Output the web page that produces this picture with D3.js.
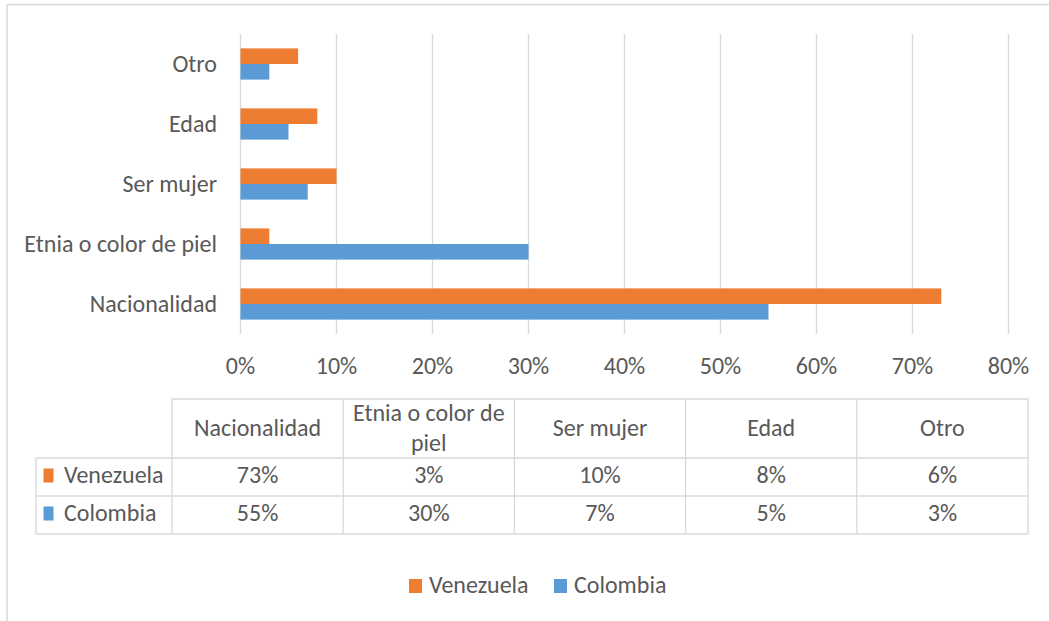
<!DOCTYPE html>
<html><head><meta charset="utf-8">
<script src="https://cdn.jsdelivr.net/npm/d3@7"></script>
<style>
body{margin:0;background:#fff;}
svg{display:block;}
text{font-family:Carlito,"Liberation Sans Narrow","DejaVu Sans Condensed","Open Sans",sans-serif;fill:#595959;}
</style></head><body>
<svg id="c" width="1049" height="621"></svg>
<script>
const categories = ["Nacionalidad","Etnia o color de piel","Ser mujer","Edad","Otro"];
const headerLines = [["Nacionalidad"],["Etnia o color de","piel"],["Ser mujer"],["Edad"],["Otro"]];
const seriesNames = ["Venezuela","Colombia"];
const venezuela = [73,3,10,8,6];
const colombia = [55,30,7,5,3];
const xTicks = [0,10,20,30,40,50,60,70,80];
const colors = ["#ED7D31","#5B9BD5"];
const series = [venezuela, colombia];

const svg = d3.select("#c");
const FS = 24;

// frame
svg.append("line").attr("x1",7).attr("x2",1049).attr("y1",4.5).attr("y2",4.5).attr("stroke","#D9D9D9").attr("stroke-width",1.5);
svg.append("line").attr("x1",7).attr("x2",7).attr("y1",4.5).attr("y2",621).attr("stroke","#D9D9D9").attr("stroke-width",1.5);

const x = d3.scaleLinear().domain([0,80]).range([240,1008]);
const y = d3.scaleBand().domain(categories.slice().reverse()).range([34,334]).paddingInner(0.48).paddingOuter(0.24);
const ys = d3.scaleBand().domain(seriesNames).range([0,y.bandwidth()]);

// grid
svg.append("g").selectAll("line").data(xTicks).join("line")
  .attr("x1",d=>x(d)+0.5).attr("x2",d=>x(d)+0.5).attr("y1",34).attr("y2",334)
  .attr("stroke","#D9D9D9").attr("stroke-width",1.3);

// bars
seriesNames.forEach((s,i)=>{
  svg.append("g").selectAll("rect").data(categories).join("rect")
    .attr("x",x(0)+0.5).attr("y",(c)=>y(c)+ys(s))
    .attr("width",(c,j)=>x(series[i][j])-x(0)).attr("height",ys.bandwidth())
    .attr("fill",colors[i]);
});

// category labels
const yAxis = d3.axisLeft(y).tickSize(0).tickPadding(23);
const ga = svg.append("g").attr("transform","translate(240,0)").call(yAxis);
ga.select(".domain").remove();
ga.selectAll("text").style("font-size",FS+"px").attr("fill","#595959").attr("font-family",null)
  .attr("dy",null).attr("y",8);

// x tick labels
const xAxis = d3.axisBottom(x).tickValues(xTicks).tickFormat(d=>d+"%").tickSize(0).tickPadding(0);
const gx = svg.append("g").attr("transform","translate(0,374)").call(xAxis);
gx.select(".domain").remove();
gx.selectAll("text").style("font-size",FS+"px").attr("fill","#595959").attr("font-family",null)
  .attr("dy",null).attr("y",0);

// data table
const colX = d3.scaleBand().domain(categories).range([172,1028]);
const tTop=399, tHead=458, tR1=496, tR2=534, tLeft=36;
const tbl = svg.append("g").attr("stroke","#D9D9D9").attr("stroke-width",1.3);
tbl.append("line").attr("x1",172).attr("x2",1028).attr("y1",tTop).attr("y2",tTop);
[tHead,tR1,tR2].forEach(yy=>tbl.append("line").attr("x1",tLeft).attr("x2",1028).attr("y1",yy).attr("y2",yy));
categories.forEach(c=>tbl.append("line").attr("x1",colX(c)).attr("x2",colX(c)).attr("y1",tTop).attr("y2",tR2));
tbl.append("line").attr("x1",1028).attr("x2",1028).attr("y1",tTop).attr("y2",tR2);
tbl.append("line").attr("x1",tLeft).attr("x2",tLeft).attr("y1",tHead).attr("y2",tR2);

// header text
categories.forEach((c,i)=>{
  const lines = headerLines[i];
  const cx = colX(c)+colX.bandwidth()/2;
  const base = lines.length===1 ? 436 : 421;
  lines.forEach((ln,k)=>{
    svg.append("text").attr("x",cx).attr("y",base+k*30)
      .attr("text-anchor","middle").style("font-size",FS+"px").text(ln);
  });
});
// rows
const rowBase=[483,521];
seriesNames.forEach((s,i)=>{
  svg.append("rect").attr("x",43.5).attr("y",rowBase[i]-14.5).attr("width",10).attr("height",14).attr("fill",colors[i]);
  svg.append("text").attr("x",64).attr("y",rowBase[i]).style("font-size",FS+"px").text(s);
  categories.forEach((c,j)=>{
    svg.append("text").attr("x",colX(c)+colX.bandwidth()/2).attr("y",rowBase[i])
      .attr("text-anchor","middle").style("font-size",FS+"px").text(series[i][j]+"%");
  });
});

// legend
const leg = [{x:409},{x:554}];
leg.forEach((l,i)=>{
  svg.append("rect").attr("x",l.x).attr("y",579).attr("width",13).attr("height",14).attr("fill",colors[i]);
  svg.append("text").attr("x",l.x+20).attr("y",593).style("font-size",FS+"px").text(seriesNames[i]);
});
</script>
</body></html>
